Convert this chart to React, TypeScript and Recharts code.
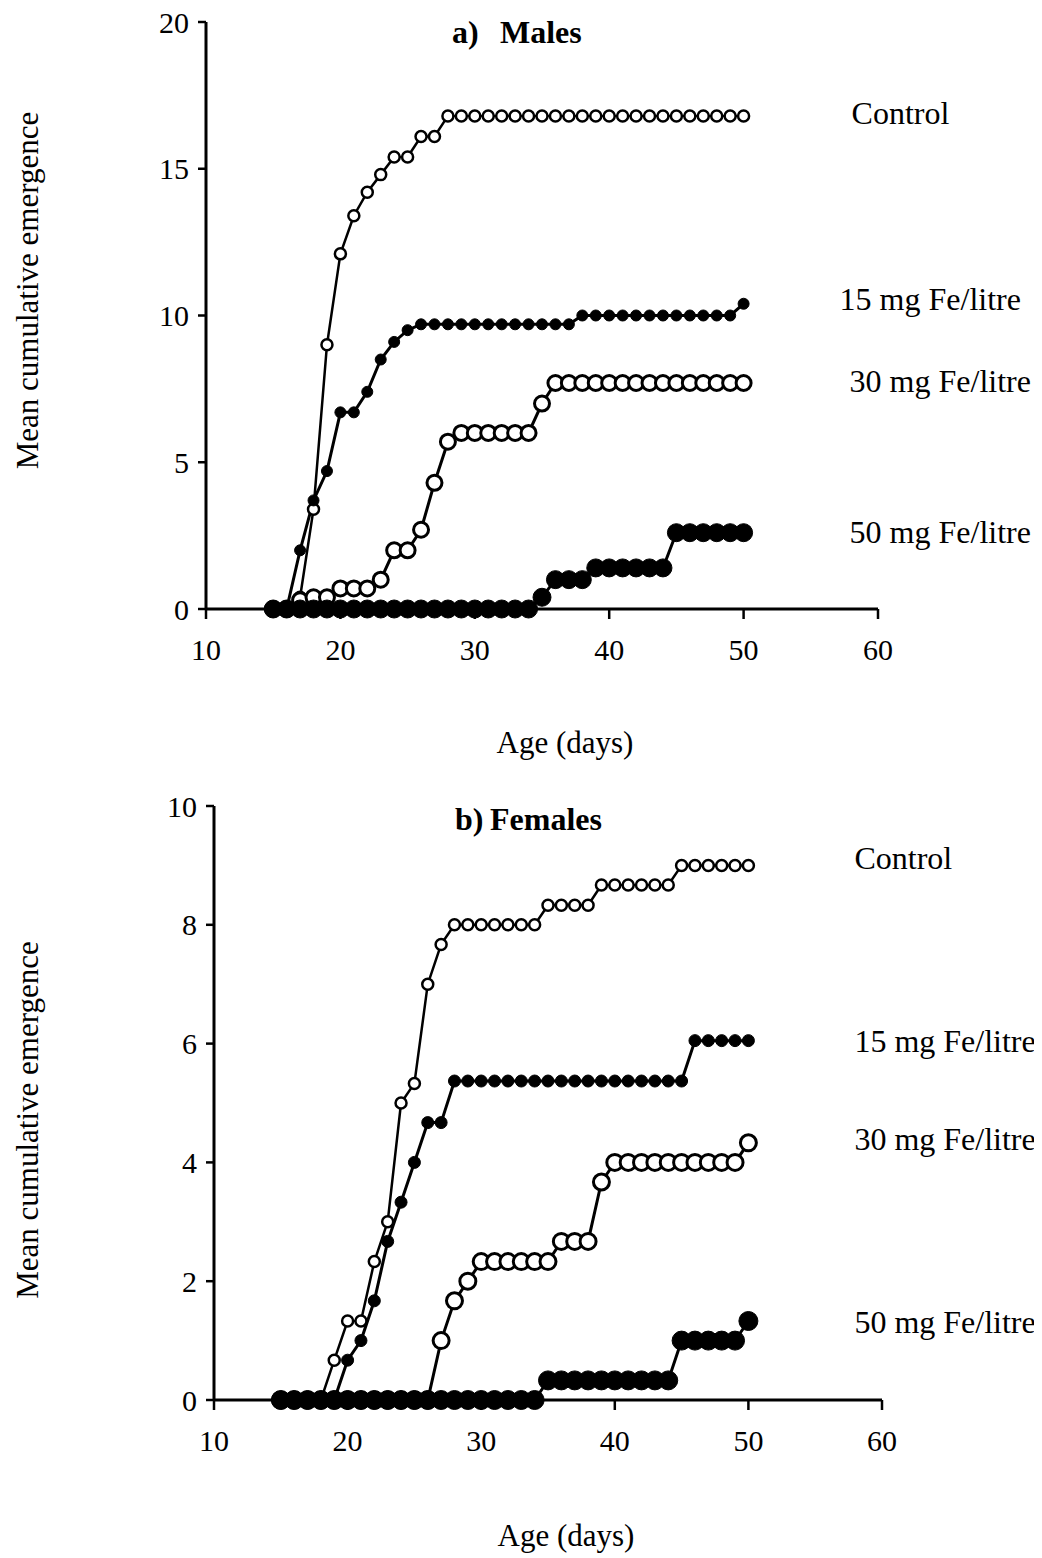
import React from 'react';
import { LineChart, Line, XAxis, YAxis } from 'recharts';

// ---------- data ----------
const days = [15, 16, 17, 18, 19, 20, 21, 22, 23, 24, 25, 26, 27, 28, 29, 30, 31, 32, 33, 34, 35, 36, 37, 38, 39, 40, 41, 42, 43, 44, 45, 46, 47, 48, 49, 50];

const xTicks = [10, 20, 30, 40, 50, 60];
const malesYTicks = [0, 5, 10, 15, 20];
const femalesYTicks = [0, 2, 4, 6, 8, 10];

const seriesNames = ['Control', '15 mg Fe/litre', '30 mg Fe/litre', '50 mg Fe/litre'];

// a) Males
const malesControl = [0, 0, 0.4, 3.4, 9.0, 12.1, 13.4, 14.2, 14.8, 15.4, 15.4, 16.1, 16.1, 16.8, 16.8, 16.8, 16.8, 16.8, 16.8, 16.8, 16.8, 16.8, 16.8, 16.8, 16.8, 16.8, 16.8, 16.8, 16.8, 16.8, 16.8, 16.8, 16.8, 16.8, 16.8, 16.8];
const males15 = [0, 0, 2.0, 3.7, 4.7, 6.7, 6.7, 7.4, 8.5, 9.1, 9.5, 9.7, 9.7, 9.7, 9.7, 9.7, 9.7, 9.7, 9.7, 9.7, 9.7, 9.7, 9.7, 10.0, 10.0, 10.0, 10.0, 10.0, 10.0, 10.0, 10.0, 10.0, 10.0, 10.0, 10.0, 10.4];
const males30 = [0, 0, 0.3, 0.4, 0.4, 0.7, 0.7, 0.7, 1.0, 2.0, 2.0, 2.7, 4.3, 5.7, 6.0, 6.0, 6.0, 6.0, 6.0, 6.0, 7.0, 7.7, 7.7, 7.7, 7.7, 7.7, 7.7, 7.7, 7.7, 7.7, 7.7, 7.7, 7.7, 7.7, 7.7, 7.7];
const males50 = [0, 0, 0, 0, 0, 0, 0, 0, 0, 0, 0, 0, 0, 0, 0, 0, 0, 0, 0, 0, 0.4, 1.0, 1.0, 1.0, 1.4, 1.4, 1.4, 1.4, 1.4, 1.4, 2.6, 2.6, 2.6, 2.6, 2.6, 2.6];

// b) Females
const femalesControl = [0, 0, 0, 0, 0.67, 1.33, 1.33, 2.33, 3.0, 5.0, 5.33, 7.0, 7.67, 8.0, 8.0, 8.0, 8.0, 8.0, 8.0, 8.0, 8.33, 8.33, 8.33, 8.33, 8.67, 8.67, 8.67, 8.67, 8.67, 8.67, 9.0, 9.0, 9.0, 9.0, 9.0, 9.0];
const females15 = [0, 0, 0, 0, 0, 0.67, 1.0, 1.67, 2.67, 3.33, 4.0, 4.67, 4.67, 5.37, 5.37, 5.37, 5.37, 5.37, 5.37, 5.37, 5.37, 5.37, 5.37, 5.37, 5.37, 5.37, 5.37, 5.37, 5.37, 5.37, 5.37, 6.05, 6.05, 6.05, 6.05, 6.05];
const females30 = [0, 0, 0, 0, 0, 0, 0, 0, 0, 0, 0, 0, 1.0, 1.67, 2.0, 2.33, 2.33, 2.33, 2.33, 2.33, 2.33, 2.67, 2.67, 2.67, 3.67, 4.0, 4.0, 4.0, 4.0, 4.0, 4.0, 4.0, 4.0, 4.0, 4.0, 4.33];
const females50 = [0, 0, 0, 0, 0, 0, 0, 0, 0, 0, 0, 0, 0, 0, 0, 0, 0, 0, 0, 0, 0.33, 0.33, 0.33, 0.33, 0.33, 0.33, 0.33, 0.33, 0.33, 0.33, 1.0, 1.0, 1.0, 1.0, 1.0, 1.33];

const buildRows = (cols: number[][]) =>
  days.map((d, i) => ({ day: d, s0: cols[0][i], s1: cols[1][i], s2: cols[2][i], s3: cols[3][i] }));

const malesRows = buildRows([malesControl, males15, males30, males50]);
const femalesRows = buildRows([femalesControl, females15, females30, females50]);

// ---------- styling ----------
const FONT = '"Liberation Serif", "Times New Roman", serif';
const TICK_FONT = 30;
const LABEL_FONT = 32;
const TITLE_FONT = 31;

type DotStyle = { r: number; fill: string; sw: number; lw: number };

const malesDots: DotStyle[] = [
  { r: 5.5, fill: '#fff', sw: 2.5, lw: 2.5 },
  { r: 5.5, fill: '#000', sw: 1, lw: 3 },
  { r: 7.5, fill: '#fff', sw: 3, lw: 3 },
  { r: 9, fill: '#000', sw: 1, lw: 3 },
];
const femalesDots: DotStyle[] = [
  { r: 5.5, fill: '#fff', sw: 2.5, lw: 2.5 },
  { r: 6, fill: '#000', sw: 1, lw: 3 },
  { r: 8, fill: '#fff', sw: 3, lw: 3 },
  { r: 9.5, fill: '#000', sw: 1, lw: 3 },
];

const malesLabelOffsets = [
  { dx: 108, dy: -3 },
  { dx: 96, dy: -5 },
  { dx: 106, dy: -2 },
  { dx: 106, dy: -1 },
];
const femalesLabelOffsets = [
  { dx: 106, dy: -7 },
  { dx: 106, dy: 0 },
  { dx: 106, dy: -4 },
  { dx: 106, dy: 1 },
];

const EndLabel = (text: string, dx: number, dy: number) => (p: any) => {
  const last = days.length - 1;
  const vb = p && p.viewBox ? p.viewBox : p;
  const x = vb && vb.x != null ? vb.x : p.x;
  const y = vb && vb.y != null ? vb.y : p.y;
  if (p.index !== last || x == null || y == null) return <g key={`e-${p.index}`} />;
  return (
    <text
      key={`lbl-${text}`}
      x={x + dx}
      y={y + dy}
      dominantBaseline="central"
      fontFamily={FONT}
      fontSize={LABEL_FONT}
      fill="#000"
    >
      {text}
    </text>
  );
};

const YTitle = (props: any) => {
  const vb = props.viewBox || { x: 0, y: 0, width: 0, height: 0 };
  const cx = props.px;
  const cy = vb.y + vb.height / 2 + props.shift;
  return (
    <text
      x={cx}
      y={cy}
      transform={`rotate(-90, ${cx}, ${cy})`}
      textAnchor="middle"
      fontFamily={FONT}
      fontSize={TITLE_FONT}
      fill="#000"
    >
      Mean cumulative emergence
    </text>
  );
};

const XTitle = (props: any) => {
  const vb = props.viewBox || { x: 0, y: 0, width: 0, height: 0 };
  const cx = vb.x + vb.width / 2 + props.shift;
  const cy = vb.y + props.off;
  return (
    <text x={cx} y={cy} textAnchor="middle" fontFamily={FONT} fontSize={TITLE_FONT} fill="#000">
      Age (days)
    </text>
  );
};

type PanelProps = {
  rows: any[];
  yMax: number;
  yTicks: number[];
  height: number;
  top: number;
  marginTop: number;
  marginRight: number;
  yAxisWidth: number;
  xAxisHeight: number;
  dots: DotStyle[];
  offsets: { dx: number; dy: number }[];
  yTitleShift: number;
  xTitleShift: number;
  xTitleOff: number;
};

const Panel = (p: PanelProps) => (
  <div style={{ position: 'absolute', left: 0, top: p.top }}>
    <LineChart
      width={1034}
      height={p.height}
      data={p.rows}
      margin={{ top: p.marginTop, right: p.marginRight, bottom: 0, left: 0 }}
    >
      <XAxis
        dataKey="day"
        type="number"
        domain={[10, 60]}
        ticks={xTicks}
        interval={0}
        height={p.xAxisHeight}
        axisLine={{ stroke: '#000', strokeWidth: 3 }}
        tickLine={{ stroke: '#000', strokeWidth: 2.5 }}
        tickSize={10}
        tickMargin={20}
        tick={{ fill: '#000', fontFamily: FONT, fontSize: TICK_FONT }}
        label={<XTitle shift={p.xTitleShift} off={p.xTitleOff} />}
      />
      <YAxis
        type="number"
        domain={[0, p.yMax]}
        ticks={p.yTicks}
        interval={0}
        width={p.yAxisWidth}
        axisLine={{ stroke: '#000', strokeWidth: 3 }}
        tickLine={{ stroke: '#000', strokeWidth: 2.5 }}
        tickSize={8}
        tickMargin={9}
        tick={{ fill: '#000', fontFamily: FONT, fontSize: TICK_FONT }}
        label={<YTitle px={30} shift={p.yTitleShift} />}
      />
      {[0, 1, 2, 3].map((k) => (
        <Line
          key={k}
          dataKey={`s${k}`}
          type="linear"
          stroke="#000"
          strokeWidth={p.dots[k].lw}
          dot={{ r: p.dots[k].r, fill: p.dots[k].fill, stroke: '#000', strokeWidth: p.dots[k].sw }}
          activeDot={false}
          isAnimationActive={false}
          label={EndLabel(seriesNames[k], p.offsets[k].dx, p.offsets[k].dy)}
        />
      ))}
    </LineChart>
  </div>
);

export default function App() {
  return (
    <div style={{ position: 'relative', width: 1034, height: 1550, background: '#fff', fontFamily: FONT }}>
      <Panel
        rows={malesRows}
        yMax={20}
        yTicks={malesYTicks}
        height={798}
        top={-8}
        marginTop={22}
        marginRight={164}
        yAxisWidth={198}
        xAxisHeight={189}
        dots={malesDots}
        offsets={malesLabelOffsets}
        yTitleShift={-25}
        xTitleShift={23}
        xTitleOff={144}
      />
      <Panel
        rows={femalesRows}
        yMax={10}
        yTicks={femalesYTicks}
        height={770}
        top={780}
        marginTop={18}
        marginRight={160}
        yAxisWidth={206}
        xAxisHeight={158}
        dots={femalesDots}
        offsets={femalesLabelOffsets}
        yTitleShift={17}
        xTitleShift={18}
        xTitleOff={146}
      />
      <svg
        width={1034}
        height={1550}
        style={{ position: 'absolute', left: 0, top: 0, pointerEvents: 'none' }}
      >
        <text x={444} y={35} fontFamily={FONT} fontWeight="bold" fontSize={32} fill="#000">a)</text>
        <text x={492} y={35} fontFamily={FONT} fontWeight="bold" fontSize={32} fill="#000">Males</text>
        <text x={447} y={822} fontFamily={FONT} fontWeight="bold" fontSize={32} fill="#000">b)</text>
        <text x={482} y={822} fontFamily={FONT} fontWeight="bold" fontSize={32} fill="#000">Females</text>
      </svg>
    </div>
  );
}
